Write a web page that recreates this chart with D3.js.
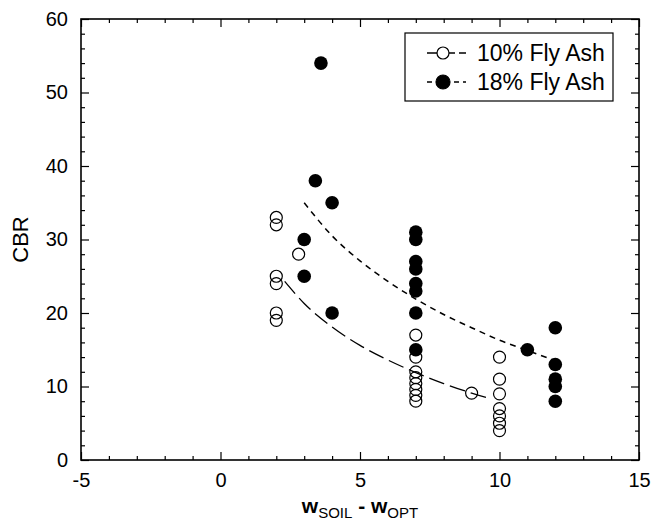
<!DOCTYPE html>
<html lang="en">
<head>
<meta charset="UTF-8">
<title>CBR vs moisture</title>
<script src="https://d3js.org/d3.v7.min.js"></script>
<style>
  body { margin: 0; background: #fff; }
  text { font-family: "Liberation Sans", Arial, sans-serif; fill: #000; }
</style>
</head>
<body>
<div id="chart"></div>
<script>
// ---- data ----
var ash10X = [2, 2, 2, 2, 2, 2, 2.8, 7, 7, 7, 7, 7, 7, 7, 7, 9, 10, 10, 10, 10, 10, 10, 10];
var ash10Y = [33, 32, 25, 24, 20, 19, 28, 17, 14, 12, 11.2, 10.4, 9.6, 8.8, 8, 9.1, 14, 11, 9, 7, 6, 5, 4];
var ash18X = [3, 3, 3.4, 3.6, 4, 4, 7, 7, 7, 7, 7, 7, 7, 7, 11, 12, 12, 12, 12, 12];
var ash18Y = [30, 25, 38, 54, 35, 20, 31, 30, 27, 26, 24, 23, 20, 15, 15, 18, 13, 11, 10, 8];
// fitted trend curves
var fit10X = [2.3, 3, 4, 5, 6, 7, 8, 9, 9.7];
var fit10Y = [24.3, 21.3, 18.1, 15.6, 13.6, 11.9, 10.4, 9.1, 8.3];
var fit18X = [3, 4, 5, 6, 7, 8, 9, 10, 11, 12];
var fit18Y = [35, 30.5, 27.1, 24.3, 21.9, 19.8, 18.0, 16.3, 14.9, 13.5];
var xTicks = [-5, 0, 5, 10, 15];
var yTicks = [0, 10, 20, 30, 40, 50, 60];
var legendLabels = ["10% Fly Ash", "18% Fly Ash"];

var W = 668, H = 521;
var svg = d3.select("#chart").append("svg").attr("width", W).attr("height", H);

var x = d3.scaleLinear().domain([-5, 15]).range([81, 639]);
var y = d3.scaleLinear().domain([0, 60]).range([460, 19]);

var xMinor = d3.range(-5, 16, 1).filter(function(d) { return d % 5 != 0; });
var yMinor = d3.range(0, 61, 2).filter(function(d) { return d % 10 != 0; });
var plainFmt = function(d) { return String(d); }; // keeps "-5" as a hyphen

/* ===== axes, ticks pointing inward on all four sides ===== */
function styleAxis(g) {
  g.select(".domain").remove();
  g.selectAll("line").attr("stroke", "#000").attr("stroke-width", 1.2);
  g.selectAll("text").style("font-size", "20px");
}

svg.append("g").attr("transform", "translate(0," + y(0) + ")")
  .call(d3.axisBottom(x).tickValues(xTicks).tickSizeInner(-8).tickSizeOuter(0).tickPadding(13).tickFormat(plainFmt))
  .call(styleAxis);
svg.append("g").attr("transform", "translate(0," + y(0) + ")")
  .call(d3.axisBottom(x).tickValues(xMinor).tickSizeInner(-4).tickSizeOuter(0).tickFormat(""))
  .call(styleAxis);
svg.append("g").attr("transform", "translate(0," + y(60) + ")")
  .call(d3.axisTop(x).tickValues(xTicks).tickSizeInner(-8).tickSizeOuter(0).tickFormat(""))
  .call(styleAxis);
svg.append("g").attr("transform", "translate(0," + y(60) + ")")
  .call(d3.axisTop(x).tickValues(xMinor).tickSizeInner(-4).tickSizeOuter(0).tickFormat(""))
  .call(styleAxis);

svg.append("g").attr("transform", "translate(" + x(-5) + ",0)")
  .call(d3.axisLeft(y).tickValues(yTicks).tickSizeInner(-8).tickSizeOuter(0).tickPadding(13).tickFormat(plainFmt))
  .call(styleAxis);
svg.append("g").attr("transform", "translate(" + x(-5) + ",0)")
  .call(d3.axisLeft(y).tickValues(yMinor).tickSizeInner(-4).tickSizeOuter(0).tickFormat(""))
  .call(styleAxis);
svg.append("g").attr("transform", "translate(" + x(15) + ",0)")
  .call(d3.axisRight(y).tickValues(yTicks).tickSizeInner(-8).tickSizeOuter(0).tickFormat(""))
  .call(styleAxis);
svg.append("g").attr("transform", "translate(" + x(15) + ",0)")
  .call(d3.axisRight(y).tickValues(yMinor).tickSizeInner(-4).tickSizeOuter(0).tickFormat(""))
  .call(styleAxis);

// frame
svg.append("rect")
  .attr("x", x(-5)).attr("y", y(60))
  .attr("width", x(15) - x(-5)).attr("height", y(0) - y(60))
  .attr("fill", "none").attr("stroke", "#000").attr("stroke-width", 1.6);

/* ===== axis titles ===== */
svg.append("text")
  .attr("transform", "translate(28," + y(30) + ") rotate(-90)")
  .attr("text-anchor", "middle")
  .style("font-size", "22px")
  .text("CBR");

var xt = svg.append("text")
  .attr("x", x(5)).attr("y", 513)
  .attr("text-anchor", "middle")
  .style("font-size", "21px").style("font-weight", "bold");
xt.append("tspan").text("w");
xt.append("tspan").attr("dy", 5).style("font-size", "15px").style("font-weight", "normal").text("SOIL");
xt.append("tspan").attr("dy", -5).text(" - w");
xt.append("tspan").attr("dy", 5).style("font-size", "15px").style("font-weight", "normal").text("OPT");

/* ===== trend curves ===== */
var line = d3.line()
  .x(function(d) { return x(d[0]); })
  .y(function(d) { return y(d[1]); })
  .curve(d3.curveMonotoneX);

svg.append("path")
  .datum(d3.zip(fit10X, fit10Y))
  .attr("d", line)
  .attr("fill", "none").attr("stroke", "#000").attr("stroke-width", 1.3)
  .attr("stroke-dasharray", "16,6");

svg.append("path")
  .datum(d3.zip(fit18X, fit18Y))
  .attr("d", line)
  .attr("fill", "none").attr("stroke", "#000").attr("stroke-width", 1.5)
  .attr("stroke-dasharray", "6,5");

/* ===== points ===== */
svg.append("g").selectAll("circle")
  .data(d3.zip(ash10X, ash10Y))
  .enter().append("circle")
  .attr("cx", function(d) { return x(d[0]); })
  .attr("cy", function(d) { return y(d[1]); })
  .attr("r", 6)
  .attr("fill", "none").attr("stroke", "#000").attr("stroke-width", 1.2);

svg.append("g").selectAll("circle")
  .data(d3.zip(ash18X, ash18Y))
  .enter().append("circle")
  .attr("cx", function(d) { return x(d[0]); })
  .attr("cy", function(d) { return y(d[1]); })
  .attr("r", 6.8)
  .attr("fill", "#000");

/* ===== legend ===== */
var lg = svg.append("g");
lg.append("rect")
  .attr("x", 405).attr("y", 33).attr("width", 208).attr("height", 68)
  .attr("fill", "#fff").attr("stroke", "#000").attr("stroke-width", 1.2);

var rows = [
  {label: legendLabels[0], dash: "12,4", open: true, yy: 53},
  {label: legendLabels[1], dash: "5,4", open: false, yy: 82}
];
rows.forEach(function(r) {
  lg.append("line")
    .attr("x1", 427).attr("x2", 466).attr("y1", r.yy).attr("y2", r.yy)
    .attr("stroke", "#000").attr("stroke-width", 1.3)
    .attr("stroke-dasharray", r.dash);
  lg.append("circle")
    .attr("cx", 443).attr("cy", r.yy).attr("r", r.open ? 6 : 7)
    .attr("fill", r.open ? "#fff" : "#000")
    .attr("stroke", "#000").attr("stroke-width", 1.2);
  lg.append("text")
    .attr("x", 477).attr("y", r.yy + 8)
    .style("font-size", "23px")
    .text(r.label);
});
</script>
</body>
</html>
